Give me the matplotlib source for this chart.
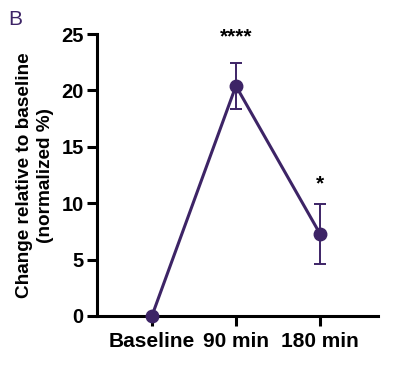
import matplotlib as mpl
import matplotlib.pyplot as plt

# data
timepoints = ["Baseline", "90 min", "180 min"]
change = [0.0, 20.4, 7.3]
sem = [0.0, 2.05, 2.65]
stars = ["", "****", "*"]
star_y = [None, 24.9, 11.9]

PURPLE = "#3d2466"

mpl.rcParams.update({
    "font.family": ["Liberation Sans", "DejaVu Sans"],
    "font.weight": "bold",
})

fig = plt.figure(figsize=(4.02, 3.70), dpi=100)
ax = fig.add_axes([0.241, 0.146, 0.699, 0.762])

x = list(range(len(timepoints)))
ax.errorbar(x[1:], change[1:], yerr=sem[1:], fmt="none", ecolor=PURPLE,
            elinewidth=1.4, capsize=4.5, capthick=1.4, zorder=2)
ax.plot(x, change, color=PURPLE, lw=2.2, marker="o", ms=9,
        clip_on=False, zorder=3)

# etoiles de significativite (centrees verticalement)
for xi, sy, s in zip(x, star_y, stars):
    if s:
        ax.text(xi, sy, s, ha="center", va="center_baseline",
                fontsize=15, fontweight="bold", color="black")

ax.set_xlim(-0.655, 2.69)
ax.set_ylim(0, 25)
ax.set_yticks([0, 5, 10, 15, 20, 25])
ax.set_xticks(x)
ax.set_xticklabels(timepoints)

for side in ("top", "right"):
    ax.spines[side].set_visible(False)
for side in ("left", "bottom"):
    ax.spines[side].set_linewidth(2.2)
ax.tick_params(axis="both", width=2.2, length=7.5, labelsize=14.5, pad=2)
ax.tick_params(axis="x", labelsize=15, pad=4)

ax.set_ylabel("Change relative to baseline\n(normalized %)", fontsize=13.7,
              fontweight="bold", labelpad=5, linespacing=1.3)

fig.text(0.02, 0.946, "B", fontsize=15, color=PURPLE, fontweight="normal",
         ha="left", va="center")

fig.savefig("out.png", dpi=100)
